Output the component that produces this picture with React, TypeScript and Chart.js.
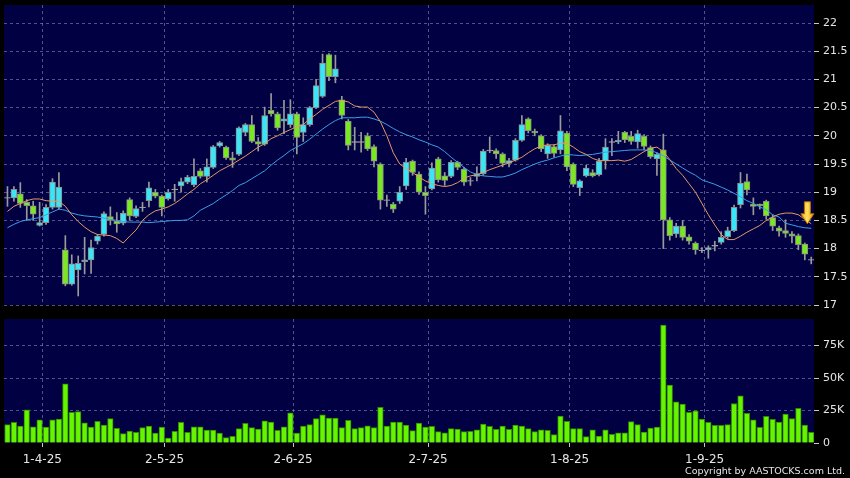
import React, { useEffect, useRef } from 'react';
import { Chart, registerables } from 'chart.js';

Chart.register(...registerables);

// ---------- data ----------
const TICK_INDEX = [5, 24, 44, 65, 87, 108];
const TICK_LABELS = ['1-4-25', '2-5-25', '2-6-25', '2-7-25', '1-8-25', '1-9-25'];

const OPEN = [
  18.9, 18.9, 18.97, 18.82, 18.76, 18.41, 18.46, 18.73, 18.73, 17.98,
  17.37, 17.62, 17.77, 17.8, 18.13, 18.25, 18.57, 18.49, 18.45, 18.87,
  18.57, 18.73, 18.85, 19.0, 18.93, 18.88, 19.05, 19.11, 19.18, 19.13,
  19.38, 19.28, 19.44, 19.82, 19.8, 19.61, 19.67, 20.06, 20.2, 19.9,
  19.85, 20.45, 20.39, 20.26, 20.2, 20.39, 20.06, 20.2, 20.5, 20.7,
  21.44, 21.05, 20.64, 20.26, 19.89, 19.89, 20.0, 19.81, 19.5, 18.86,
  18.79, 18.84, 19.11, 19.55, 19.32, 19.0, 19.06, 19.59, 19.29, 19.28,
  19.53, 19.41, 19.2, 19.28, 19.33, 19.74, 19.74, 19.68, 19.51, 19.57,
  19.92, 20.3, 20.08, 20.0, 19.68, 19.81, 19.75, 20.05, 19.5, 19.08,
  19.29, 19.35, 19.31, 19.56, 19.89, 19.89, 20.06, 19.99, 19.89, 19.99,
  19.79, 19.59, 19.75, 18.51, 18.26, 18.4, 18.21, 18.1, 17.97, 17.98,
  18.05, 18.11, 18.21, 18.32, 18.78, 19.19, 18.79, 18.79, 18.84, 18.55,
  18.37, 18.32, 18.26, 18.23, 18.08, 17.8,
];
const HIGH = [
  19.1, 19.1, 19.17, 18.87, 18.84, 18.82, 18.78, 19.24, 19.35, 18.23,
  17.89, 17.87, 18.2, 18.15, 18.25, 18.65, 18.74, 18.64, 18.67, 18.9,
  18.76, 18.82, 19.18, 19.05, 18.95, 19.05, 19.14, 19.25, 19.3, 19.59,
  19.42, 19.59, 19.83, 19.9, 19.82, 19.71, 20.16, 20.22, 20.36, 19.97,
  20.51, 20.75, 20.42, 20.63, 20.64, 20.42, 20.32, 20.52, 21.0, 21.45,
  21.46, 21.43, 20.7, 20.29, 20.15, 20.06, 20.05, 19.84, 19.52, 18.95,
  18.82, 19.1, 19.6, 19.57, 19.36, 19.1, 19.52, 19.62, 19.35, 19.56,
  19.55, 19.44, 19.26, 19.45, 19.76, 19.98, 19.77, 19.7, 19.6, 19.95,
  20.36, 20.32, 20.12, 20.02, 19.86, 19.84, 20.36, 20.08, 19.52, 19.22,
  19.48, 19.4, 19.6, 19.95, 19.95, 20.08, 20.08, 20.08, 20.1, 20.02,
  19.82, 19.7, 20.03, 18.55, 18.45, 18.5, 18.25, 18.12, 18.02, 18.05,
  18.13, 18.3, 18.38, 18.77, 19.35, 19.32, 18.9, 18.79, 18.86, 18.6,
  18.4, 18.51, 18.3, 18.26, 18.1, 17.85,
];
const LOW = [
  18.75, 18.84, 18.73, 18.5, 18.5, 18.4, 18.43, 18.7, 18.7, 17.34,
  17.35, 17.16, 17.55, 17.56, 18.08, 18.22, 18.42, 18.29, 18.42, 18.5,
  18.55, 18.66, 18.74, 18.9, 18.58, 18.86, 18.84, 19.0, 19.15, 19.1,
  19.25, 19.18, 19.42, 19.8, 19.58, 19.44, 19.65, 20.0, 19.88, 19.73,
  19.83, 20.35, 20.1, 20.04, 20.15, 19.68, 19.9, 20.17, 20.48, 20.68,
  20.98, 20.94, 20.3, 19.75, 19.75, 19.71, 19.74, 19.45, 18.7, 18.75,
  18.64, 18.8, 19.05, 19.3, 18.96, 18.61, 19.04, 19.18, 19.12, 19.26,
  19.4, 19.12, 19.12, 19.2, 19.3, 19.7, 19.6, 19.45, 19.45, 19.55,
  19.9, 20.05, 20.0, 19.72, 19.6, 19.62, 19.68, 19.38, 19.1, 18.94,
  19.27, 19.27, 19.29, 19.41, 19.65, 19.86, 19.88, 19.85, 19.78, 19.76,
  19.6, 19.3, 18.0, 18.15, 18.2, 18.15, 18.08, 17.9, 17.93, 17.83,
  17.96, 18.08, 18.18, 18.3, 18.72, 18.95, 18.6, 18.7, 18.52, 18.32,
  18.22, 18.2, 18.1, 17.98, 17.8, 17.73,
];
const CLOSE = [
  18.9, 19.05, 18.8, 18.76, 18.61, 18.46, 18.73, 19.18, 19.09, 17.37,
  17.73, 17.74, 17.8, 18.02, 18.22, 18.62, 18.5, 18.44, 18.63, 18.58,
  18.71, 18.73, 19.08, 18.93, 18.73, 19.0, 19.05, 19.19, 19.27, 19.28,
  19.28, 19.45, 19.81, 19.88, 19.61, 19.57, 20.14, 20.2, 19.9, 19.85,
  20.36, 20.39, 20.14, 20.3, 20.39, 19.97, 20.2, 20.5, 20.89, 21.29,
  21.05, 21.19, 20.36, 19.83, 19.89, 19.89, 19.77, 19.55, 18.86, 18.86,
  18.7, 19.0, 19.53, 19.35, 19.0, 18.94, 19.43, 19.22, 19.21, 19.53,
  19.44, 19.18, 19.2, 19.33, 19.73, 19.74, 19.68, 19.51, 19.56, 19.92,
  20.2, 20.09, 20.05, 19.77, 19.83, 19.69, 20.09, 19.45, 19.14, 19.2,
  19.43, 19.29, 19.55, 19.8, 19.89, 19.92, 19.93, 19.9, 20.04, 19.81,
  19.63, 19.67, 18.51, 18.23, 18.4, 18.2, 18.13, 17.98, 17.97, 18.02,
  18.05, 18.2, 18.32, 18.73, 19.16, 19.04, 18.75, 18.76, 18.58, 18.4,
  18.31, 18.27, 18.22, 18.07, 17.9, 17.8,
];
const VOLUME_K = [
  14.1, 15.9, 13.1, 25.6, 12.5, 17.9, 12.3, 17.9, 18.4, 45.5,
  23.5, 24.1, 15.6, 12.3, 16.6, 13.8, 18.7, 11.3, 7.2, 9.2,
  8.2, 11.8, 13.1, 7.7, 12.3, 3.8, 9.0, 15.9, 8.2, 12.5,
  12.5, 10.0, 10.0, 7.7, 4.1, 5.1, 11.0, 15.1, 11.8, 10.7,
  17.1, 16.1, 9.7, 12.5, 23.3, 7.7, 13.1, 14.1, 18.7, 21.7,
  19.2, 19.2, 11.8, 17.4, 11.0, 11.8, 13.3, 11.8, 27.4, 13.1,
  16.1, 16.1, 13.8, 9.5, 15.4, 12.3, 12.8, 8.7, 7.9, 11.0,
  10.7, 8.7, 9.0, 10.2, 14.6, 12.8, 10.5, 13.1, 10.5, 13.8,
  13.1, 11.0, 8.7, 10.2, 9.7, 6.4, 20.7, 16.6, 11.0, 11.0,
  4.9, 10.2, 5.4, 10.2, 6.7, 7.9, 7.9, 16.4, 14.1, 8.4,
  11.5, 12.3, 90.8, 44.5, 31.7, 29.9, 23.5, 24.8, 18.4, 15.9,
  13.6, 13.6, 14.1, 30.4, 36.3, 22.8, 17.9, 12.0, 20.5, 18.2,
  16.1, 22.3, 18.7, 26.6, 13.8, 8.2,
];
const MA_SHORT = [
  18.66, 18.75, 18.8, 18.85, 18.88, 18.88, 18.85, 18.84, 18.84, 18.75,
  18.6, 18.48, 18.38, 18.3, 18.25, 18.24, 18.23, 18.18, 18.1, 18.22,
  18.33, 18.5, 18.6, 18.67, 18.7, 18.74, 18.8, 18.88, 18.97, 19.05,
  19.15, 19.22, 19.3, 19.38, 19.44, 19.5, 19.57, 19.64, 19.72, 19.8,
  19.86, 19.95, 20.0, 20.06, 20.11, 20.16, 20.2, 20.3, 20.38, 20.47,
  20.54, 20.61, 20.63, 20.6, 20.53, 20.51, 20.51, 20.42, 20.25, 20.0,
  19.7, 19.5, 19.42, 19.35, 19.27, 19.2, 19.15, 19.12, 19.1, 19.12,
  19.17, 19.25, 19.29, 19.31, 19.35, 19.4, 19.44, 19.48, 19.52, 19.57,
  19.62, 19.7, 19.77, 19.82, 19.84, 19.84, 19.87, 19.87, 19.8, 19.72,
  19.67, 19.6, 19.56, 19.56, 19.56, 19.57, 19.55, 19.58, 19.65, 19.72,
  19.78, 19.8, 19.72, 19.58, 19.42, 19.3, 19.15, 19.0, 18.8, 18.6,
  18.42, 18.25, 18.16, 18.16, 18.22, 18.29, 18.35, 18.41, 18.5, 18.56,
  18.61, 18.63, 18.63, 18.6, 18.52, 18.44,
];
const MA_LONG = [
  18.37, 18.43, 18.48, 18.51, 18.53, 18.55, 18.6, 18.65, 18.7, 18.68,
  18.63, 18.6, 18.58, 18.57, 18.56, 18.54, 18.52, 18.5, 18.48, 18.47,
  18.47, 18.47, 18.46, 18.47, 18.48, 18.49, 18.5, 18.5, 18.51, 18.58,
  18.68, 18.74, 18.8, 18.88, 18.95, 19.03, 19.12, 19.17, 19.24, 19.31,
  19.38, 19.48, 19.57, 19.65, 19.74, 19.8, 19.86, 19.94, 20.03, 20.12,
  20.2, 20.27, 20.32, 20.32, 20.32, 20.33, 20.33, 20.3, 20.26, 20.2,
  20.13, 20.07, 20.02, 19.98, 19.93, 19.89, 19.84, 19.8, 19.72, 19.62,
  19.53, 19.44, 19.36, 19.31, 19.29, 19.28, 19.27, 19.27, 19.3, 19.34,
  19.4, 19.45, 19.5, 19.54, 19.57, 19.61, 19.64, 19.67, 19.66, 19.65,
  19.66, 19.67, 19.69, 19.71, 19.72, 19.73, 19.74, 19.75, 19.75, 19.75,
  19.74, 19.7, 19.65, 19.57, 19.5, 19.43, 19.36, 19.3, 19.22, 19.18,
  19.14, 19.09, 19.04, 18.98, 18.92, 18.85, 18.8, 18.74, 18.69, 18.6,
  18.56, 18.45, 18.42, 18.39, 18.37, 18.36,
];
// marker arrow (bar index, price at tip)
const ARROW_INDEX = 124.4;
const ARROW_PRICE = 18.44;

// ---------- styles ----------
const NAVY = '#000042';
const GRID = 'rgba(150,150,200,0.55)';
const CYAN = '#3ae6f6';
const GREEN = '#7ae820';
const DOJI = '#a8a8a8';
const WICK = '#9a9a9a';
const EDGE = '#8c8c8c';
const VOL_FILL = '#66f400';
const VOL_EDGE = '#2e8a00';
const MA_S_COLOR = '#e49a66';
const MA_L_COLOR = '#3c9fe6';
const TEXT = '#e6e6e6';
const FONT = "'DejaVu Sans', sans-serif";
const X_MIN = -0.54;
const X_MAX = 125.43;
const GRID_SHIFT = 0.42;
const AXIS_W = 36;

const areaBg = {
  id: 'areaBg',
  beforeDraw(c: any) {
    const { ctx, chartArea: a } = c;
    ctx.save();
    ctx.fillStyle = NAVY;
    ctx.fillRect(a.left, a.top, a.right - a.left, a.bottom - a.top);
    ctx.restore();
  },
};

const arrowPlugin = {
  id: 'arrowMark',
  afterDatasetsDraw(c: any) {
    const { ctx } = c;
    const x = c.scales.x.getPixelForValue(ARROW_INDEX);
    const y = c.scales.y.getPixelForValue(ARROW_PRICE);
    ctx.save();
    const g = ctx.createLinearGradient(x - 7, 0, x + 7, 0);
    g.addColorStop(0, '#ffb000');
    g.addColorStop(0.5, '#ffe060');
    g.addColorStop(1, '#e89000');
    ctx.fillStyle = g;
    ctx.strokeStyle = '#b87000';
    ctx.lineWidth = 1;
    ctx.beginPath();
    ctx.moveTo(x, y);
    ctx.lineTo(x - 6.5, y - 10);
    ctx.lineTo(x - 3, y - 10);
    ctx.lineTo(x - 3, y - 22);
    ctx.lineTo(x + 3, y - 22);
    ctx.lineTo(x + 3, y - 10);
    ctx.lineTo(x + 6.5, y - 10);
    ctx.closePath();
    ctx.fill();
    ctx.stroke();
    ctx.restore();
  },
};

const fixY = (s: any) => {
  s.width = AXIS_W;
  s.paddingTop = 0;
  s.paddingBottom = 0;
};

export default function App() {
  const priceRef = useRef<HTMLCanvasElement>(null);
  const volRef = useRef<HTMLCanvasElement>(null);

  useEffect(() => {
    const idx = OPEN.map((_, i) => i);
    const bodies = idx.map((i) => {
      let lo = Math.min(OPEN[i], CLOSE[i]);
      let hi = Math.max(OPEN[i], CLOSE[i]);
      if (hi - lo < 0.012) {
        const m = (OPEN[i] + CLOSE[i]) / 2;
        lo = m - 0.006;
        hi = m + 0.006;
      }
      return { x: i, y: [lo, hi] };
    });
    const bodyColors = idx.map((i) =>
      CLOSE[i] > OPEN[i] ? CYAN : CLOSE[i] < OPEN[i] ? GREEN : DOJI
    );
    const bodyEdges = idx.map((i) => (CLOSE[i] === OPEN[i] ? DOJI : EDGE));

    const xGridTicks = (s: any) => {
      s.ticks = TICK_INDEX.map((v) => ({ value: v + GRID_SHIFT }));
    };

    const price = new Chart(priceRef.current as HTMLCanvasElement, {
      type: 'bar',
      data: {
        datasets: [
          {
            type: 'line',
            data: idx.map((i) => ({ x: i, y: MA_SHORT[i] })),
            borderColor: MA_S_COLOR,
            borderWidth: 1,
            pointRadius: 0,
            tension: 0,
            order: 0,
          } as any,
          {
            type: 'line',
            data: idx.map((i) => ({ x: i, y: MA_LONG[i] })),
            borderColor: MA_L_COLOR,
            borderWidth: 1,
            pointRadius: 0,
            tension: 0,
            order: 0,
          } as any,
          {
            type: 'bar',
            data: bodies,
            backgroundColor: bodyColors,
            borderColor: bodyEdges,
            borderWidth: 1,
            borderSkipped: false,
            barThickness: 6,
            grouped: false,
            order: 1,
          } as any,
          {
            type: 'bar',
            data: idx.map((i) => ({ x: i, y: [LOW[i], HIGH[i]] })),
            backgroundColor: WICK,
            borderWidth: 0,
            barThickness: 1,
            grouped: false,
            order: 2,
          } as any,
        ],
      },
      options: {
        animation: false,
        responsive: false,
        events: [],
        layout: { padding: { left: 4, top: 5, right: 0, bottom: 7 } },
        plugins: { legend: { display: false }, tooltip: { enabled: false } },
        scales: {
          x: {
            type: 'linear',
            offset: false,
            min: X_MIN,
            max: X_MAX,
            afterBuildTicks: xGridTicks,
            afterFit: (s: any) => {
              s.height = 0;
              s.paddingLeft = 0;
              s.paddingRight = 0;
            },
            ticks: { display: false },
            grid: { color: GRID, drawTicks: false, lineWidth: 1, offset: false },
            border: { display: false, dash: [3, 3] },
          },
          y: {
            type: 'linear',
            position: 'right',
            min: 17,
            max: 22.32,
            afterFit: fixY,
            ticks: {
              stepSize: 0.5,
              includeBounds: false,
              color: TEXT,
              padding: 4,
              font: { family: FONT, size: 11 },
              callback: (v: any) => String(Math.round(v * 10) / 10),
            },
            grid: {
              color: GRID,
              tickColor: '#c8c8c8',
              tickLength: 5,
              tickBorderDash: [],
            },
            border: { display: false, dash: [3, 3] },
          },
        },
      } as any,
      plugins: [areaBg, arrowPlugin],
    });

    const vol = new Chart(volRef.current as HTMLCanvasElement, {
      type: 'bar',
      data: {
        datasets: [
          {
            data: idx.map((i) => ({ x: i, y: VOLUME_K[i] })),
            backgroundColor: VOL_FILL,
            borderColor: VOL_EDGE,
            borderWidth: 1,
            borderSkipped: 'start',
            barThickness: 5.6,
            grouped: false,
          } as any,
        ],
      },
      options: {
        animation: false,
        responsive: false,
        events: [],
        layout: { padding: { left: 4, top: 7, right: 0, bottom: 9 } },
        plugins: { legend: { display: false }, tooltip: { enabled: false } },
        scales: {
          x: {
            type: 'linear',
            offset: false,
            min: X_MIN,
            max: X_MAX,
            afterBuildTicks: xGridTicks,
            afterFit: (s: any) => {
              s.height = 26;
              s.paddingLeft = 0;
              s.paddingRight = 0;
            },
            ticks: {
              autoSkip: false,
              maxRotation: 0,
              color: TEXT,
              padding: 6,
              font: { family: FONT, size: 12 },
              callback: (_v: any, i: number) => TICK_LABELS[i],
            },
            grid: {
              color: GRID,
              offset: false,
              tickColor: '#c8c8c8',
              tickLength: 4,
              tickBorderDash: [],
            },
            border: { display: false, dash: [3, 3] },
          },
          y: {
            type: 'linear',
            position: 'right',
            min: 0,
            max: 95.4,
            afterFit: fixY,
            ticks: {
              stepSize: 25,
              includeBounds: false,
              color: TEXT,
              padding: 4,
              font: { family: FONT, size: 11 },
              callback: (v: any) => (v === 0 ? '0' : v + 'K'),
            },
            grid: {
              color: (ctx: any) => (ctx.tick && ctx.tick.value === 0 ? 'rgba(0,0,0,0)' : GRID),
              tickColor: '#c8c8c8',
              tickLength: 5,
              tickBorderDash: [],
            },
            border: { display: false, dash: [3, 3] },
          },
        },
      } as any,
      plugins: [areaBg],
    });

    return () => {
      price.destroy();
      vol.destroy();
    };
  }, []);

  return (
    <div
      style={{
        position: 'absolute',
        left: 0,
        top: 0,
        width: 850,
        height: 478,
        background: '#000',
        overflow: 'hidden',
      }}
    >
      <canvas
        ref={priceRef}
        width={850}
        height={312}
        style={{ position: 'absolute', left: 0, top: 0, display: 'block' }}
      />
      <canvas
        ref={volRef}
        width={850}
        height={166}
        style={{ position: 'absolute', left: 0, top: 312, display: 'block' }}
      />
      <div
        style={{
          position: 'absolute',
          right: 5,
          top: 465,
          color: TEXT,
          fontFamily: FONT,
          fontSize: 9.5,
          lineHeight: '12px',
          whiteSpace: 'nowrap',
        }}
      >
        Copyright by AASTOCKS.com Ltd.
      </div>
    </div>
  );
}
